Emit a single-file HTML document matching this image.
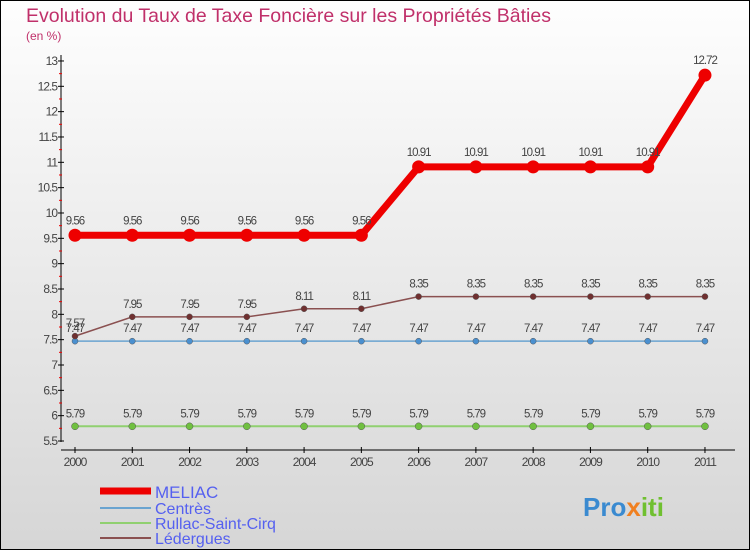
<!DOCTYPE html>
<html><head><meta charset="utf-8"><style>
body{margin:0}
#c{width:750px;height:550px;position:relative;overflow:hidden;box-sizing:border-box;border:1px solid #000;background:linear-gradient(#fefefe,#d6d6d6);font-family:"Liberation Sans",sans-serif}
svg text{font-family:"Liberation Sans",sans-serif}
</style></head><body>
<div id="c">
<svg id="s" width="750" height="550" style="position:absolute;left:-1px;top:-1px">
<text x="26" y="22" font-size="19.5" fill="#c0306a">Evolution du Taux de Taxe Foncière sur les Propriétés Bâties</text>
<text x="26" y="40" font-size="12" fill="#c0306a">(en %)</text>
<g id="ax"></g><g id="series"></g>
<g>
<line x1="100" y1="491" x2="151" y2="491" stroke="#e00" stroke-width="7"/>
<text x="155" y="498" font-size="17" fill="#5560f0">MELIAC</text>
<line x1="100" y1="508" x2="151" y2="508" stroke="#6aa4d0" stroke-width="2"/>
<text x="155" y="514" font-size="16" fill="#5560f0">Centrès</text>
<line x1="100" y1="523" x2="151" y2="523" stroke="#90d070" stroke-width="2"/>
<text x="155" y="529" font-size="16" fill="#5560f0">Rullac-Saint-Cirq</text>
<line x1="100" y1="538" x2="151" y2="538" stroke="#8a5050" stroke-width="2"/>
<text x="155" y="544" font-size="16" fill="#5560f0">Lédergues</text>
</g>
<text x="583" y="516" font-size="26" font-weight="bold" fill="#3a8ad0">Pro<tspan fill="#f08020">x</tspan><tspan fill="#70c030">iti</tspan></text>
</svg></div>
<script>
const years=["2000","2001","2002","2003","2004","2005","2006","2007","2008","2009","2010","2011"];
const meliac=[9.56,9.56,9.56,9.56,9.56,9.56,10.91,10.91,10.91,10.91,10.91,12.72];
const centres=[7.47,7.47,7.47,7.47,7.47,7.47,7.47,7.47,7.47,7.47,7.47,7.47];
const rullac=[5.79,5.79,5.79,5.79,5.79,5.79,5.79,5.79,5.79,5.79,5.79,5.79];
const ledergues=[7.57,7.95,7.95,7.95,8.11,8.11,8.35,8.35,8.35,8.35,8.35,8.35];
const yTicks=[5.5,6,6.5,7,7.5,8,8.5,9,9.5,10,10.5,11,11.5,12,12.5,13];
const NS="http://www.w3.org/2000/svg";
const xs=i=>75+i*57.27, ys=v=>441-(v-5.5)*50.67;
function mk(t,a,p){const e=document.createElementNS(NS,t);for(const k in a)e.setAttribute(k,a[k]);p.appendChild(e);return e;}
const ax=document.getElementById('ax'), sg=document.getElementById('series');
let e=mk('line',{x1:61,y1:55,x2:61,y2:442,stroke:'#000'},ax);

e=mk('line',{x1:61,y1:450,x2:735,y2:450,stroke:'#000'},ax);

yTicks.forEach((v,i)=>{const y=ys(v);
 mk('line',{x1:58,y1:y,x2:64,y2:y,stroke:'#000'},ax);
 if(i<yTicks.length-1)mk('line',{x1:59,y1:ys(v+0.25),x2:62,y2:ys(v+0.25),stroke:'#e00'},ax);
 e=mk('text',{x:57,y:y+4,'font-size':12,fill:'#444','text-anchor':'end','letter-spacing':'-1'},ax);e.textContent=String(v);
 });
years.forEach((yr,i)=>{const x=xs(i);mk('line',{x1:x,y1:447,x2:x,y2:453,stroke:'#000'},ax);
 e=mk('text',{x:x,y:466,'font-size':12,fill:'#444','text-anchor':'middle','letter-spacing':'-1'},ax);e.textContent=yr;
 });
function series(name,d,col,w,r,dot){
 const g=mk('g',{},sg);
 mk('polyline',{points:d.map((v,i)=>xs(i)+','+ys(v)).join(' '),fill:'none',stroke:col,'stroke-width':w,'stroke-linejoin':'round'},g);
 d.forEach((v,i)=>{const c=mk('circle',{cx:xs(i),cy:ys(v),r:r,fill:dot,stroke:dot==col?'none':'#555','stroke-width':0.5},g);
  
  const t=mk('text',{x:xs(i),y:ys(v)-9-(w>3?2:0),'font-size':11.5,fill:'#444','text-anchor':'middle','letter-spacing':'-1'},g);
  t.textContent=String(v);});
}
series('rullac',rullac,'#90d070',2,3.5,'#70c040');
series('centres',centres,'#6aa4d0',1.5,3,'#4a90d0');
series('ledergues',ledergues,'#8a5050',1.5,3,'#703030');
series('meliac',meliac,'#e00',7,6.5,'#e00');
</script></body></html>
